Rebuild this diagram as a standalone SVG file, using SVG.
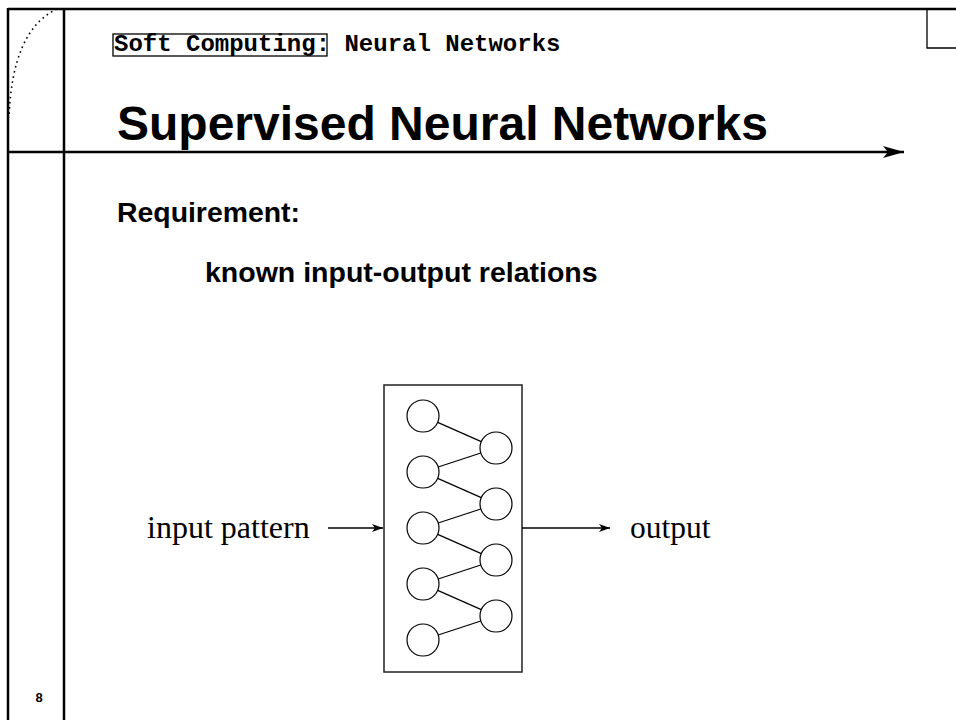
<svg xmlns="http://www.w3.org/2000/svg" width="956" height="720" viewBox="0 0 956 720">
<defs>
<style>
.frame{stroke:#000;stroke-width:2.5;fill:none}
.thin{stroke:#000;stroke-width:1.3;fill:none}
.neuron{stroke:#000;stroke-width:1.2;fill:#fff}
.link{stroke:#000;stroke-width:1.2}
.mono{font-family:"Liberation Mono","Courier New",monospace;font-weight:bold;font-size:24px}
.sans{font-family:"Liberation Sans",Arial,sans-serif;font-weight:bold}
.serif{font-family:"Liberation Serif","Times New Roman",serif}
</style>
<marker id="bigArrow" markerWidth="22" markerHeight="14" refX="21" refY="7" orient="auto" markerUnits="userSpaceOnUse">
<path d="M0,1 L21,7 L0,13 L5,7 Z" fill="#000"/>
</marker>
<marker id="smallArrow" markerWidth="12" markerHeight="10" refX="11" refY="5" orient="auto" markerUnits="userSpaceOnUse">
<path d="M0,1 L11,5 L0,9 L3,5 Z" fill="#000"/>
</marker>
</defs>
<rect width="956" height="720" fill="#fff"/>
<g id="frame">
<line class="frame" x1="8" y1="9" x2="956" y2="9"/>
<line class="frame" x1="8" y1="8" x2="8" y2="720"/>
<line class="frame" x1="64" y1="8" x2="64" y2="720"/>
<line class="frame" x1="8" y1="152" x2="904" y2="152" marker-end="url(#bigArrow)"/>
<path class="thin" d="M927,9 L927,48 L956,48"/>
<path d="M57,9 Q12,30 9,118" fill="none" stroke="#000" stroke-width="1.6" stroke-dasharray="1.6 3.6"/>
</g>
<g id="header">
<rect x="113" y="34" width="214" height="22" class="thin"/>
<text class="mono" x="114" y="51">Soft Computing: Neural Networks</text>
</g>
<g id="title">
<text class="sans" x="117" y="140" font-size="48">Supervised Neural Networks</text>
</g>
<g id="requirement">
<text class="sans" x="117" y="222" font-size="28.4">Requirement:</text>
<text class="sans" x="205" y="282" font-size="28.5">known input-output relations</text>
</g>
<g id="network">
<rect x="384" y="385" width="138" height="287" fill="#fff" stroke="#222" stroke-width="1.5"/>
<g class="links">
<line class="link" x1="437.7" y1="422.4" x2="481.3" y2="441.6"/>
<line class="link" x1="438.2" y1="467.0" x2="480.8" y2="453.0"/>
<line class="link" x1="437.7" y1="478.4" x2="481.3" y2="497.6"/>
<line class="link" x1="438.2" y1="523.0" x2="480.8" y2="509.0"/>
<line class="link" x1="437.7" y1="534.4" x2="481.3" y2="553.6"/>
<line class="link" x1="438.2" y1="579.0" x2="480.8" y2="565.0"/>
<line class="link" x1="437.7" y1="590.4" x2="481.3" y2="609.6"/>
<line class="link" x1="438.2" y1="635.0" x2="480.8" y2="621.0"/>
</g>
<circle class="neuron" cx="423" cy="416" r="16"/>
<circle class="neuron" cx="423" cy="472" r="16"/>
<circle class="neuron" cx="423" cy="528" r="16"/>
<circle class="neuron" cx="423" cy="584" r="16"/>
<circle class="neuron" cx="423" cy="640" r="16"/>
<circle class="neuron" cx="496" cy="448" r="16"/>
<circle class="neuron" cx="496" cy="504" r="16"/>
<circle class="neuron" cx="496" cy="560" r="16"/>
<circle class="neuron" cx="496" cy="616" r="16"/>
</g>
<g id="input">
<text class="serif" x="147" y="538" font-size="32">input pattern</text>
</g>
<g id="output">
<text class="serif" x="630" y="538" font-size="31.5">output</text>
</g>
<g id="connectors">
<line x1="328" y1="528" x2="383" y2="528" stroke="#000" stroke-width="1.3" marker-end="url(#smallArrow)"/>
<line x1="522" y1="528" x2="610" y2="528" stroke="#000" stroke-width="1.3" marker-end="url(#smallArrow)"/>
</g>
<g id="page">
<text class="sans" x="39" y="702" font-size="13" text-anchor="middle">8</text>
</g>
</svg>
